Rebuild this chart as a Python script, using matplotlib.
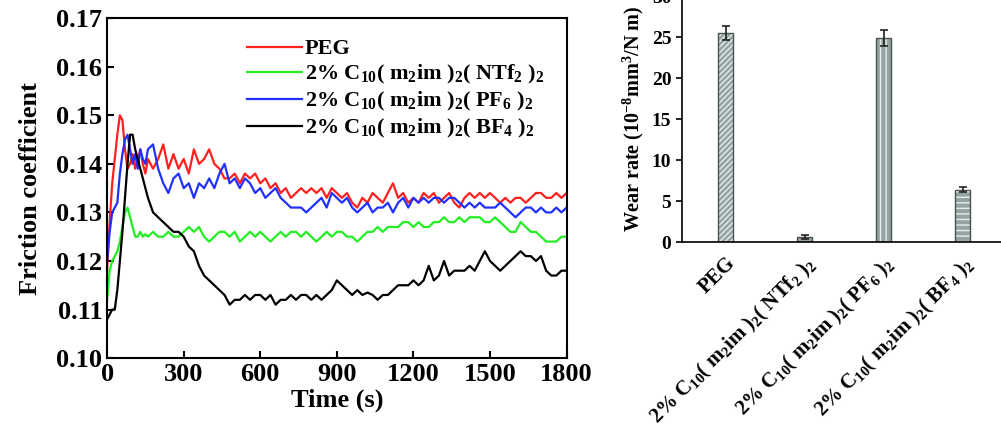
import numpy as np
import matplotlib
matplotlib.use("Agg")
import matplotlib.pyplot as plt
from matplotlib.transforms import ScaledTranslation

plt.rcParams['font.family'] = ['Liberation Serif', 'DejaVu Serif']
plt.rcParams['font.weight'] = 'bold'
plt.rcParams['mathtext.fontset'] = 'custom'
plt.rcParams['mathtext.rm'] = 'Liberation Serif:bold'
plt.rcParams['mathtext.it'] = 'Liberation Serif:bold'
plt.rcParams['mathtext.bf'] = 'Liberation Serif:bold'

# ---------------- data ----------------
time_s = np.concatenate([np.arange(0, 160, 10), np.arange(160, 1801, 20)])

peg = [0.118, 0.128, 0.136, 0.141, 0.146, 0.150, 0.149, 0.143, 0.139, 0.140, 0.142, 0.139, 0.141, 0.143, 0.140, 0.138,
       0.141, 0.139, 0.141, 0.144, 0.139, 0.142, 0.139, 0.141, 0.138, 0.143,
       0.140, 0.141, 0.143, 0.140, 0.139, 0.137, 0.137, 0.138, 0.136, 0.138,
       0.137, 0.138, 0.136, 0.137, 0.135, 0.136, 0.134, 0.135, 0.133, 0.134,
       0.135, 0.134, 0.135, 0.134, 0.135, 0.133, 0.135, 0.134, 0.133, 0.134,
       0.132, 0.131, 0.133, 0.132, 0.134, 0.133, 0.132, 0.134, 0.136, 0.133,
       0.134, 0.132, 0.133, 0.132, 0.134, 0.133, 0.134, 0.132, 0.133, 0.134,
       0.132, 0.131, 0.133, 0.134, 0.133, 0.134, 0.133, 0.134, 0.133, 0.132,
       0.133, 0.132, 0.133, 0.133, 0.132, 0.133, 0.134, 0.134, 0.133, 0.133,
       0.134, 0.133, 0.134]

ntf2 = [0.112, 0.118, 0.120, 0.121, 0.122, 0.124, 0.127, 0.130, 0.131, 0.129, 0.127, 0.125, 0.125, 0.126, 0.125, 0.1255,
        0.125, 0.126, 0.125, 0.125, 0.126, 0.125, 0.125, 0.126, 0.127, 0.126,
        0.127, 0.125, 0.124, 0.125, 0.126, 0.126, 0.125, 0.126, 0.124, 0.125,
        0.126, 0.125, 0.126, 0.125, 0.124, 0.125, 0.126, 0.125, 0.126, 0.126,
        0.125, 0.126, 0.125, 0.124, 0.125, 0.126, 0.125, 0.126, 0.126, 0.125,
        0.125, 0.124, 0.125, 0.126, 0.126, 0.127, 0.126, 0.127, 0.127, 0.127,
        0.128, 0.128, 0.127, 0.128, 0.127, 0.127, 0.128, 0.128, 0.129, 0.128,
        0.128, 0.129, 0.128, 0.129, 0.129, 0.129, 0.128, 0.128, 0.129, 0.128,
        0.127, 0.126, 0.126, 0.128, 0.127, 0.126, 0.126, 0.125, 0.124, 0.124,
        0.124, 0.125, 0.125]

pf6 = [0.120, 0.126, 0.130, 0.131, 0.132, 0.138, 0.142, 0.145, 0.146, 0.143, 0.140, 0.142, 0.139, 0.143, 0.141, 0.140,
       0.143, 0.144, 0.139, 0.136, 0.134, 0.137, 0.138, 0.135, 0.136, 0.133,
       0.136, 0.135, 0.137, 0.135, 0.138, 0.140, 0.136, 0.137, 0.135, 0.137,
       0.136, 0.134, 0.135, 0.133, 0.134, 0.135, 0.133, 0.132, 0.131, 0.131,
       0.131, 0.130, 0.131, 0.132, 0.133, 0.131, 0.134, 0.133, 0.132, 0.133,
       0.131, 0.130, 0.131, 0.132, 0.130, 0.131, 0.131, 0.132, 0.130, 0.132,
       0.133, 0.131, 0.133, 0.132, 0.133, 0.132, 0.133, 0.133, 0.132, 0.133,
       0.133, 0.132, 0.131, 0.132, 0.131, 0.132, 0.131, 0.131, 0.131, 0.132,
       0.131, 0.130, 0.129, 0.130, 0.131, 0.131, 0.130, 0.131, 0.130, 0.130,
       0.131, 0.130, 0.131]

bf4 = [0.108, 0.109, 0.110, 0.110, 0.114, 0.120, 0.126, 0.133, 0.140, 0.146, 0.146, 0.143, 0.141, 0.139, 0.137, 0.135,
       0.133, 0.130, 0.129, 0.128, 0.127, 0.126, 0.126, 0.125, 0.123, 0.122,
       0.119, 0.117, 0.116, 0.115, 0.114, 0.113, 0.111, 0.112, 0.112, 0.113,
       0.112, 0.113, 0.113, 0.112, 0.113, 0.111, 0.112, 0.112, 0.113, 0.112,
       0.113, 0.113, 0.112, 0.113, 0.112, 0.113, 0.114, 0.116, 0.115, 0.114,
       0.113, 0.114, 0.113, 0.1135, 0.113, 0.112, 0.113, 0.113, 0.114, 0.115,
       0.115, 0.115, 0.116, 0.115, 0.116, 0.119, 0.116, 0.117, 0.120, 0.117,
       0.118, 0.118, 0.118, 0.119, 0.118, 0.120, 0.122, 0.120, 0.119, 0.118,
       0.119, 0.120, 0.121, 0.122, 0.121, 0.121, 0.120, 0.121, 0.118, 0.117,
       0.117, 0.118, 0.118]

series_labels = ['PEG',
                 r'2% C$_{10}$( m$_2$im )$_2$( NTf$_2$ )$_2$',
                 r'2% C$_{10}$( m$_2$im )$_2$( PF$_6$ )$_2$',
                 r'2% C$_{10}$( m$_2$im )$_2$( BF$_4$ )$_2$']
series_colors = ['#ff2020', '#22ee22', '#2030ff', '#000000']

bar_categories = ['PEG',
                  r'2% C$_{10}$( m$_2$im )$_2$( NTf$_2$ )$_2$',
                  r'2% C$_{10}$( m$_2$im )$_2$( PF$_6$ )$_2$',
                  r'2% C$_{10}$( m$_2$im )$_2$( BF$_4$ )$_2$']
wear_rate = [25.5, 0.6, 24.9, 6.4]
wear_err = [0.9, 0.2, 1.0, 0.3]
bar_hatches = ['//////', '', '|||', '---']

# ---------------- figure ----------------
fig = plt.figure(figsize=(10.01, 4.33), dpi=100)

ax1 = fig.add_axes([0.107, 0.173, 0.459, 0.785])
for y, lab, col in zip([peg, ntf2, pf6, bf4], series_labels, series_colors):
    ax1.plot(time_s, y, color=col, lw=1.6, label=lab)
ax1.set_xlim(0, 1800)
ax1.set_ylim(0.10, 0.17)
ax1.set_xticks(np.arange(0, 1801, 300))
ax1.set_yticks(np.arange(0.10, 0.171, 0.01))
ax1.set_yticklabels(['%.2f' % v for v in np.arange(0.10, 0.171, 0.01)])
ax1.tick_params(direction='in', labelsize=19, width=1.5, length=5)
for s in ax1.spines.values():
    s.set_linewidth(1.5)
ax1.set_xlabel('Time (s)', fontsize=19, fontweight='bold', labelpad=2)
ax1.set_ylabel('Friction coefficient', fontsize=19, fontweight='bold', labelpad=10)
leg = ax1.legend(loc='upper left', bbox_to_anchor=(0.27, 0.985), frameon=False,
                 fontsize=16, handlelength=2.5, handletextpad=0.12, labelspacing=0.17,
                 borderaxespad=0.3)

# bar chart
ax2 = fig.add_axes([0.681, 0.441, 0.34, 0.568])
xpos = np.arange(len(bar_categories))
ax2.bar(xpos, wear_rate, width=0.19, color='#95a3a3', edgecolor='#e6eded',
        hatch=bar_hatches, linewidth=0)
ax2.bar(xpos, wear_rate, width=0.19, fill=False, edgecolor='#4a5252', linewidth=1.0)
ax2.errorbar(xpos, wear_rate, yerr=wear_err, fmt='none', ecolor='#222222',
             elinewidth=1.2, capsize=3, capthick=1.2)
ax2.set_xlim(-0.557, 3.75)
ax2.set_ylim(0, 30)
ax2.set_yticks(np.arange(0, 31, 5))
ax2.set_xticks(xpos)
ax2.set_xticklabels(bar_categories, rotation=45, ha='right', rotation_mode='anchor',
                    fontsize=15)
off = ScaledTranslation(0.22, 0.0, fig.dpi_scale_trans)
for lab in ax2.get_xticklabels():
    lab.set_transform(lab.get_transform() + off)
ax2.tick_params(axis='x', length=0, pad=8)
ax2.tick_params(axis='y', direction='out', labelsize=14, width=1.2, length=4)
for s in ax2.spines.values():
    s.set_linewidth(1.2)
ax2.set_ylabel(r'Wear rate (10$^{-8}$mm$^3$/N m)', fontsize=14.5, fontweight='bold', labelpad=4)

fig.savefig('out.png', dpi=100)
